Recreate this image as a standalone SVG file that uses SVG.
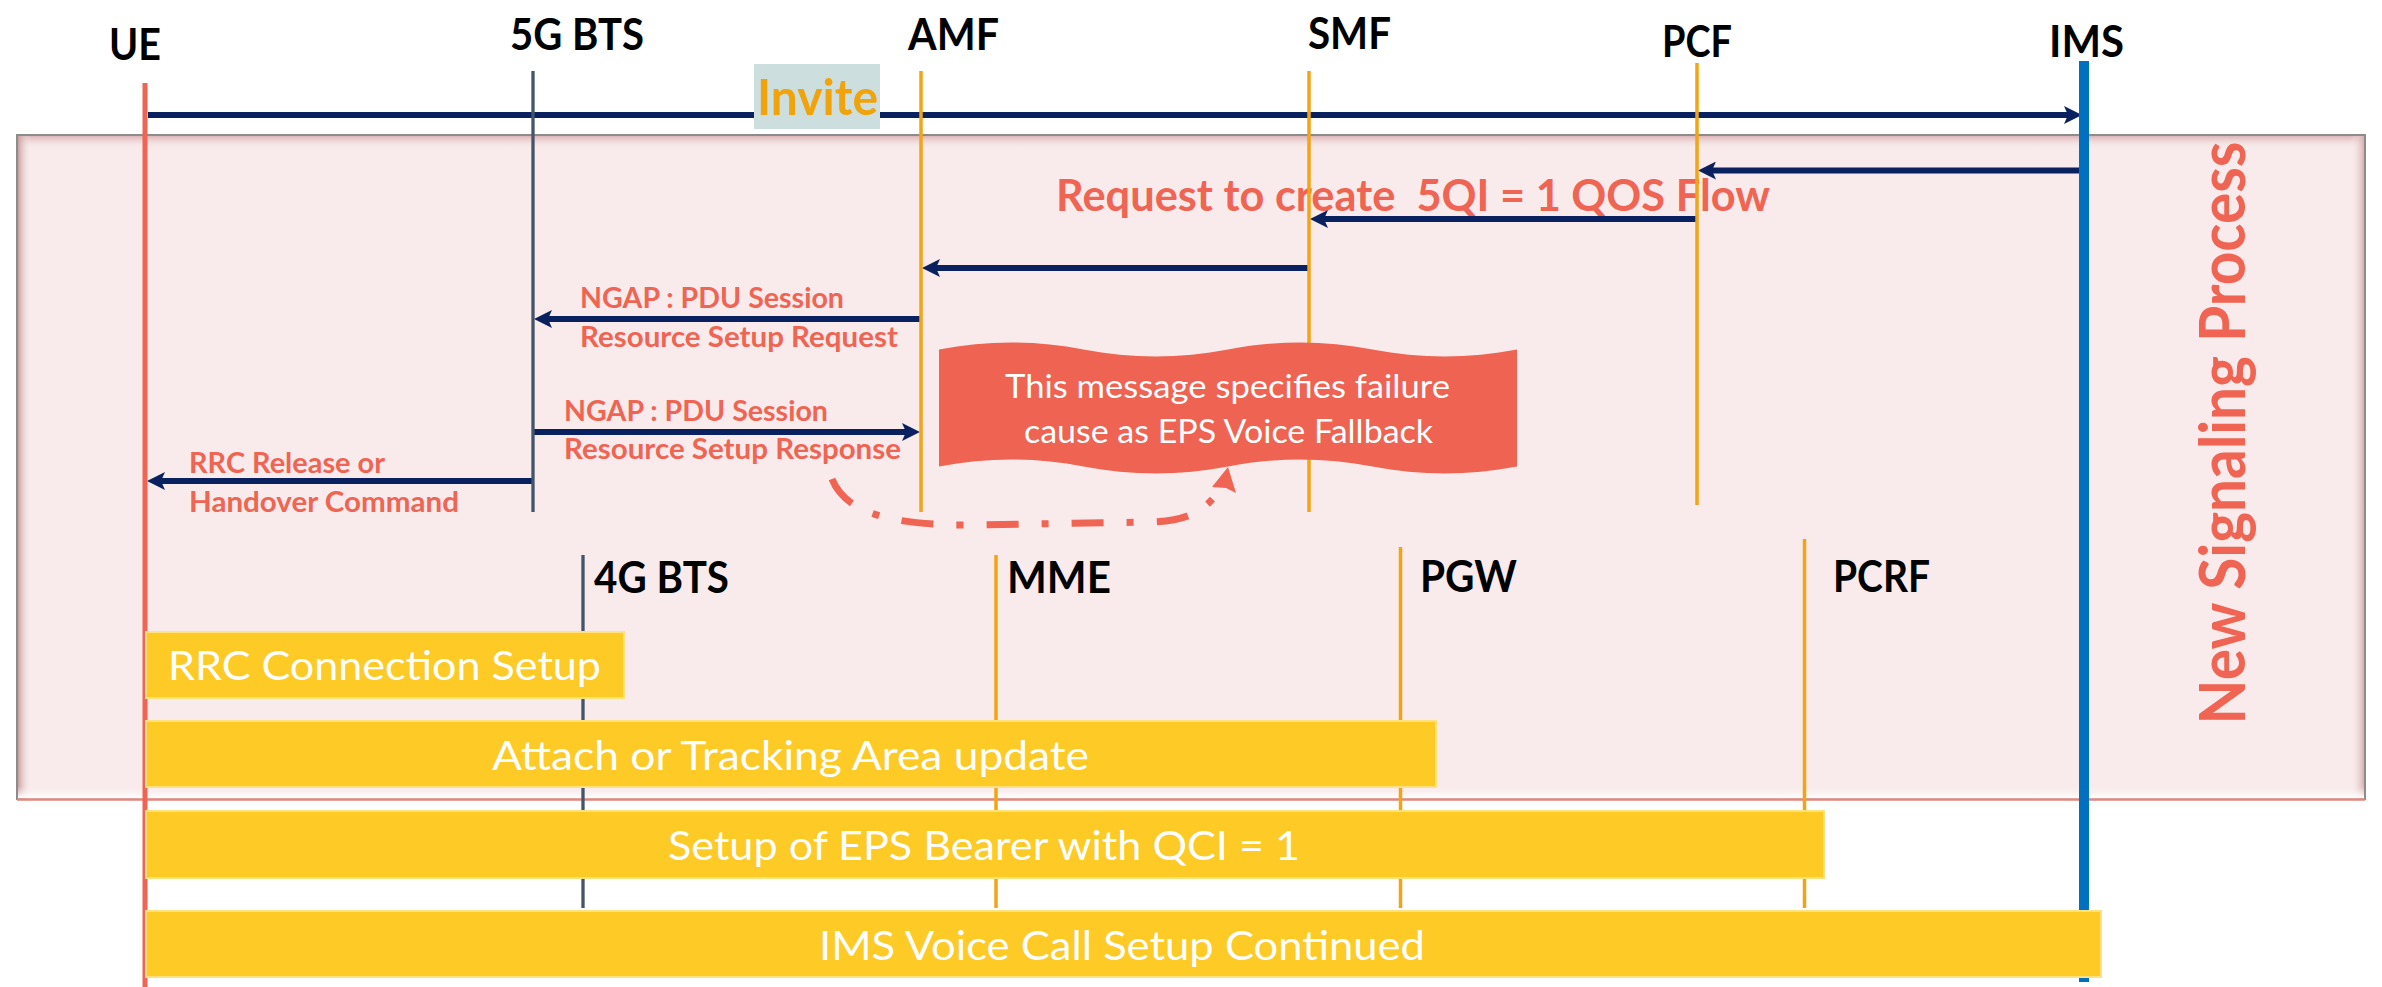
<svg xmlns="http://www.w3.org/2000/svg" width="2382" height="987" viewBox="0 0 2382 987">
  <defs>
    <style>
      .lbl{font-family:Lato,"Liberation Sans",sans-serif;font-weight:700;font-size:44px;fill:#000}
      .msg{font-family:Lato,"Liberation Sans",sans-serif;font-weight:700;font-size:28px;fill:#EF6452}
      .bar{fill:#FECA26;stroke:#FFE27E;stroke-width:2}
      .bartxt{font-family:Lato,"Liberation Sans",sans-serif;font-size:41px;fill:#fff}
      .life-o{stroke:#F2A414;stroke-width:3.5}
      .life-s{stroke:#44546A;stroke-width:3.3}
      .arrow{stroke:#0A2160;stroke-width:6;fill:none;marker-end:url(#head)}
      .note{font-family:Lato,"Liberation Sans",sans-serif;font-size:33px;fill:#fff}
    </style>
    <marker id="head" viewBox="0 0 18 18" refX="10" refY="9" markerWidth="18" markerHeight="18" markerUnits="userSpaceOnUse" orient="auto">
      <path d="M0,0 L18,9 L0,18 L4,9 Z" fill="#0A2160"/>
    </marker>
    <linearGradient id="bevTop" x1="0" y1="0" x2="0" y2="1">
      <stop offset="0" stop-color="#DDB5B5"/>
      <stop offset="1" stop-color="#F9EBEB" stop-opacity="0"/>
    </linearGradient>
    <linearGradient id="bevLeft" x1="0" y1="0" x2="1" y2="0">
      <stop offset="0" stop-color="#C99F9F"/>
      <stop offset="1" stop-color="#F9EBEB" stop-opacity="0"/>
    </linearGradient>
    <linearGradient id="bevRight" x1="1" y1="0" x2="0" y2="0">
      <stop offset="0" stop-color="#D9AFAF"/>
      <stop offset="1" stop-color="#F9EBEB" stop-opacity="0"/>
    </linearGradient>
    <linearGradient id="bevBot" x1="0" y1="1" x2="0" y2="0">
      <stop offset="0" stop-color="#FFFFFF"/>
      <stop offset="1" stop-color="#F9EBEB" stop-opacity="0"/>
    </linearGradient>
  </defs>

  <rect width="2382" height="987" fill="#FFFFFF"/>

  <!-- shaded frame around the new signalling steps -->
  <g id="new-signaling-frame">
    <rect x="17" y="135" width="2348" height="665" fill="#F9EBEB"/>
    <rect x="18" y="136" width="2346" height="13" fill="url(#bevTop)"/>
    <rect x="18" y="136" width="13" height="663" fill="url(#bevLeft)"/>
    <rect x="2351" y="136" width="13" height="663" fill="url(#bevRight)"/>
    <rect x="18" y="786" width="2346" height="12" fill="url(#bevBot)"/>
    <path d="M17,800 V135 H2365 V800" fill="none" stroke="#8C8C8C" stroke-width="2"/>
    <path d="M17,799.5 H2365" stroke="#E0877E" stroke-width="2.5"/>
    <text transform="translate(2245,433) scale(1.08,1) rotate(-90)" text-anchor="middle" textLength="583" lengthAdjust="spacingAndGlyphs" style="font-family:Lato,'Liberation Sans',sans-serif;font-weight:700;font-size:58px;fill:#EF6452">New Signaling Process</text>
  </g>

  <g id="qos-request-label">
    <text x="1056" y="211" xml:space="preserve" textLength="714" lengthAdjust="spacingAndGlyphs" style="font-family:Lato,'Liberation Sans',sans-serif;font-weight:700;font-size:43px;fill:#EF6452">Request to create  5QI = 1 QOS Flow</text>
  </g>

  <!-- messages between participants -->
  <g id="connectors">
    <line class="arrow" x1="148" y1="115" x2="2074" y2="115"/>
    <line class="arrow" x1="2080" y1="170.5" x2="1706" y2="170.5"/>
    <line class="arrow" x1="1697" y1="219" x2="1318" y2="219"/>
    <line class="arrow" x1="1309" y1="268" x2="930" y2="268"/>
    <line class="arrow" x1="921" y1="319" x2="542" y2="319"/>
    <line class="arrow" x1="533" y1="432" x2="912" y2="432"/>
    <line class="arrow" x1="533" y1="481" x2="155" y2="481"/>
    <path d="M832,479 C845,512 890,525 965,525 L1150,522 C1190,521 1205,510 1221,489" fill="none" stroke="#EF6452" stroke-width="7" stroke-dasharray="32 23 7 23"/>
    <path d="M1228,467 L1236,493 L1226,488 L1212,487 Z" fill="#EF6452"/>
  </g>

  <!-- participants: 5G core side -->
  <g id="ue">
    <line x1="145" y1="83" x2="145" y2="987" stroke="#EF6452" stroke-width="5"/>
    <text class="lbl" x="109" y="60" textLength="52" lengthAdjust="spacingAndGlyphs">UE</text>
  </g>
  <g id="gnb-5g">
    <line class="life-s" x1="533" y1="71" x2="533" y2="512"/>
    <text class="lbl" x="510" y="50" textLength="134" lengthAdjust="spacingAndGlyphs">5G BTS</text>
  </g>
  <g id="amf">
    <line class="life-o" x1="921" y1="71" x2="921" y2="512"/>
    <text class="lbl" x="908" y="50" textLength="91" lengthAdjust="spacingAndGlyphs">AMF</text>
  </g>
  <g id="smf">
    <line class="life-o" x1="1309" y1="71" x2="1309" y2="512"/>
    <text class="lbl" x="1308" y="49" textLength="83" lengthAdjust="spacingAndGlyphs">SMF</text>
  </g>
  <g id="pcf">
    <line class="life-o" x1="1697" y1="63" x2="1697" y2="505"/>
    <text class="lbl" x="1662" y="57" textLength="70" lengthAdjust="spacingAndGlyphs">PCF</text>
  </g>
  <g id="ims">
    <line x1="2084" y1="61" x2="2084" y2="982" stroke="#0070C0" stroke-width="10"/>
    <text class="lbl" x="2049" y="57" textLength="75" lengthAdjust="spacingAndGlyphs">IMS</text>
  </g>

  <!-- participants: EPC side -->
  <g id="enb-4g">
    <line class="life-s" x1="583" y1="555" x2="583" y2="908"/>
    <text class="lbl" x="594" y="593" textLength="135" lengthAdjust="spacingAndGlyphs">4G BTS</text>
  </g>
  <g id="mme">
    <line class="life-o" x1="996" y1="555" x2="996" y2="908"/>
    <text class="lbl" x="1007" y="593" textLength="104" lengthAdjust="spacingAndGlyphs">MME</text>
  </g>
  <g id="pgw">
    <line class="life-o" x1="1400.5" y1="547" x2="1400.5" y2="908"/>
    <text class="lbl" x="1420" y="592" textLength="97" lengthAdjust="spacingAndGlyphs">PGW</text>
  </g>
  <g id="pcrf">
    <line class="life-o" x1="1804.5" y1="539" x2="1804.5" y2="908"/>
    <text class="lbl" x="1833" y="592" textLength="97" lengthAdjust="spacingAndGlyphs">PCRF</text>
  </g>

  <!-- invite label over its arrow -->
  <g id="invite-label">
    <rect x="754" y="64" width="126" height="65" fill="#CCDEDE"/>
    <text x="757" y="115" textLength="121" lengthAdjust="spacingAndGlyphs" style="font-family:Lato,'Liberation Sans',sans-serif;font-weight:700;font-size:49px;fill:#F0A30A">Invite</text>
  </g>

  <!-- NGAP / RRC message labels -->
  <g id="message-labels">
    <text class="msg" x="580" y="308" textLength="264" lengthAdjust="spacingAndGlyphs">NGAP : PDU Session</text>
    <text class="msg" x="580" y="347" textLength="318" lengthAdjust="spacingAndGlyphs">Resource Setup Request</text>
    <text class="msg" x="564" y="421" textLength="264" lengthAdjust="spacingAndGlyphs">NGAP : PDU Session</text>
    <text class="msg" x="564" y="459" textLength="337" lengthAdjust="spacingAndGlyphs">Resource Setup Response</text>
    <text class="msg" x="189" y="473" textLength="196" lengthAdjust="spacingAndGlyphs">RRC Release or</text>
    <text class="msg" x="189" y="512" textLength="270" lengthAdjust="spacingAndGlyphs">Handover Command</text>
  </g>

  <!-- wavy note about the failure cause -->
  <g id="failure-note">
    <path d="M939,349.5 C987.2,340.2 1035.3,340.2 1083.5,349.5 C1131.7,358.8 1179.8,358.8 1228,349.5 C1276.2,340.2 1324.3,340.2 1372.5,349.5 C1420.7,358.8 1468.8,358.8 1517,349.5 L1517,466.5 C1468.8,475.8 1420.7,475.8 1372.5,466.5 C1324.3,457.2 1276.2,457.2 1228,466.5 C1179.8,475.8 1131.7,475.8 1083.5,466.5 C1035.3,457.2 987.2,457.2 939,466.5 Z" fill="#EE6352"/>
    <text class="note" x="1005" y="398" textLength="445" lengthAdjust="spacingAndGlyphs">This message specifies failure</text>
    <text class="note" x="1024" y="443" textLength="409" lengthAdjust="spacingAndGlyphs">cause as EPS Voice Fallback</text>
  </g>

  <!-- fallback procedure steps -->
  <g id="rrc-connection-setup">
    <rect class="bar" x="146" y="632" width="478" height="66"/>
    <text class="bartxt" x="168" y="680" textLength="433" lengthAdjust="spacingAndGlyphs">RRC Connection Setup</text>
  </g>
  <g id="attach-tau">
    <rect class="bar" x="146" y="721" width="1290" height="66"/>
    <text class="bartxt" x="492" y="770" textLength="597" lengthAdjust="spacingAndGlyphs">Attach or Tracking Area update</text>
  </g>
  <g id="eps-bearer-setup">
    <rect class="bar" x="146" y="811" width="1678" height="67"/>
    <text class="bartxt" x="668" y="860" textLength="632" lengthAdjust="spacingAndGlyphs">Setup of EPS Bearer with QCI = 1</text>
  </g>
  <g id="ims-call-continued">
    <rect class="bar" x="146" y="911" width="1955" height="66"/>
    <text class="bartxt" x="819" y="960" textLength="606" lengthAdjust="spacingAndGlyphs">IMS Voice Call Setup Continued</text>
  </g>
</svg>
